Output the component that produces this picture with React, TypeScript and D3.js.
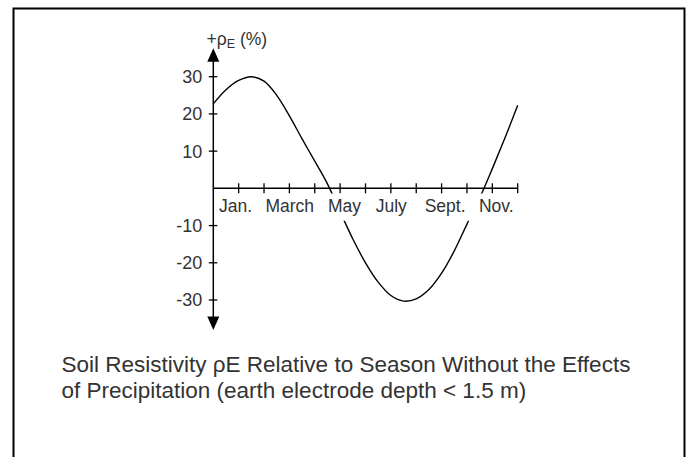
import React from "react";
import * as d3 from "d3";

const monthLabels = ["Jan.", "March", "May", "July", "Sept.", "Nov."];
const monthTicks = [1, 2, 3, 4, 5, 6, 7, 8, 9, 10, 11, 12];
const yTicks = [30, 20, 10, -10, -20, -30];
const curveMonths = [0, 0.5, 1, 1.5, 2, 2.5, 3, 3.5, 4, 4.5, 5, 5.5, 6, 6.5, 7, 7.5, 8, 8.5, 9, 9.5, 10, 10.5, 11, 11.5, 12];
const rhoValues = [22.7, 26.5, 29, 30, 28.8, 25, 19.5, 13.3, 7.3, 1.2, -6.3, -13.6, -20, -25.2, -28.8, -30.3, -29.7, -27.2, -22.8, -16.8, -9.6, -2.6, 5.3, 13.6, 22.3];
const captionLines = [
  "Soil Resistivity \u03c1E Relative to Season Without the Effects",
  "of Precipitation (earth electrode depth < 1.5 m)",
];

const W = 691;
const H = 457;
const FONT = "'Liberation Sans', Arial, Helvetica, sans-serif";
const TXT = "#333";
// small horizontal nudges of the month labels relative to their odd ticks (layout only)
const LABEL_NUDGE = [-3.2, 0.3, 4.3, 0.4, 3.5, 4];

export default function App() {
  const x = d3.scaleLinear().domain([0, 12]).range([213.3, 517.7]);
  const y = d3.scaleLinear().domain([-30, 30]).range([300, 76.7]);
  const x0 = x(0);
  const y0 = y(0);
  const pts = curveMonths.map((m, i) => [m, rhoValues[i]] as [number, number]);
  const line = d3
    .line<[number, number]>()
    .x((d) => x(d[0]))
    .y((d) => y(d[1]))
    .curve(d3.curveCatmullRom.alpha(0.5));
  const axisTop = 48.3;
  const axisBottom = 330;

  return (
    <svg
      width={W}
      height={H}
      viewBox={`0 0 ${W} ${H}`}
      style={{ position: "absolute", left: 0, top: 0, background: "#fff" }}
      fontFamily={FONT}
    >
      <rect x={0} y={0} width={W} height={H} fill="#fff" />
      <rect x={13.5} y={8.5} width={671} height={520} fill="none" stroke="#000" strokeWidth={2} />
      <defs>
        <clipPath id="gapclip">
          <rect x={0} y={0} width={W} height={y0 + 5.2} />
          <rect x={0} y={y0 + 32.5} width={W} height={H} />
        </clipPath>
      </defs>

      {/* y axis */}
      <line x1={x0} x2={x0} y1={axisTop + 10} y2={axisBottom - 10} stroke="#000" strokeWidth={1.5} />
      <path d={`M${x0},${axisTop} L${x0 - 6},${axisTop + 13.4} L${x0 + 6},${axisTop + 13.4} Z`} fill="#000" />
      <path d={`M${x0},${axisBottom} L${x0 - 6},${axisBottom - 13.4} L${x0 + 6},${axisBottom - 13.4} Z`} fill="#000" />
      {yTicks.map((t) => (
        <g key={t}>
          <line x1={x0 - 4.5} x2={x0 + 4} y1={y(t)} y2={y(t)} stroke="#000" strokeWidth={1.3} />
          <text x={x0 - 11} y={y(t) + 6.4} textAnchor="end" fontSize={18} fill={TXT}>
            {t}
          </text>
        </g>
      ))}

      {/* x axis */}
      <line x1={x0} x2={x(12)} y1={y0} y2={y0} stroke="#000" strokeWidth={1.5} />
      {monthTicks.map((m) => (
        <line key={m} x1={x(m)} x2={x(m)} y1={y0 - 5} y2={y0 + 5} stroke="#000" strokeWidth={1.3} />
      ))}
      {monthLabels.map((lab, i) => (
        <text
          key={lab}
          x={x(i * 2 + 1) + LABEL_NUDGE[i]}
          y={y0 + 23.5}
          textAnchor="middle"
          fontSize={17.5}
          fill={TXT}
        >
          {lab}
        </text>
      ))}

      {/* axis title */}
      <text x={206.5} y={44.5} fontSize={17.5} fill={TXT}>
        +{"\u03c1"}
        <tspan fontSize={12.5} dy={3}>E</tspan>
        <tspan dy={-3}> (%)</tspan>
      </text>

      {/* curve */}
      <path d={line(pts) ?? ""} fill="none" stroke="#000" strokeWidth={1.4} clipPath="url(#gapclip)" />

      {/* caption */}
      {captionLines.map((l, i) => (
        <text key={i} x={61.5} y={372 + i * 25.5} fontSize={22.5} fill={TXT}>
          {l}
        </text>
      ))}
    </svg>
  );
}
